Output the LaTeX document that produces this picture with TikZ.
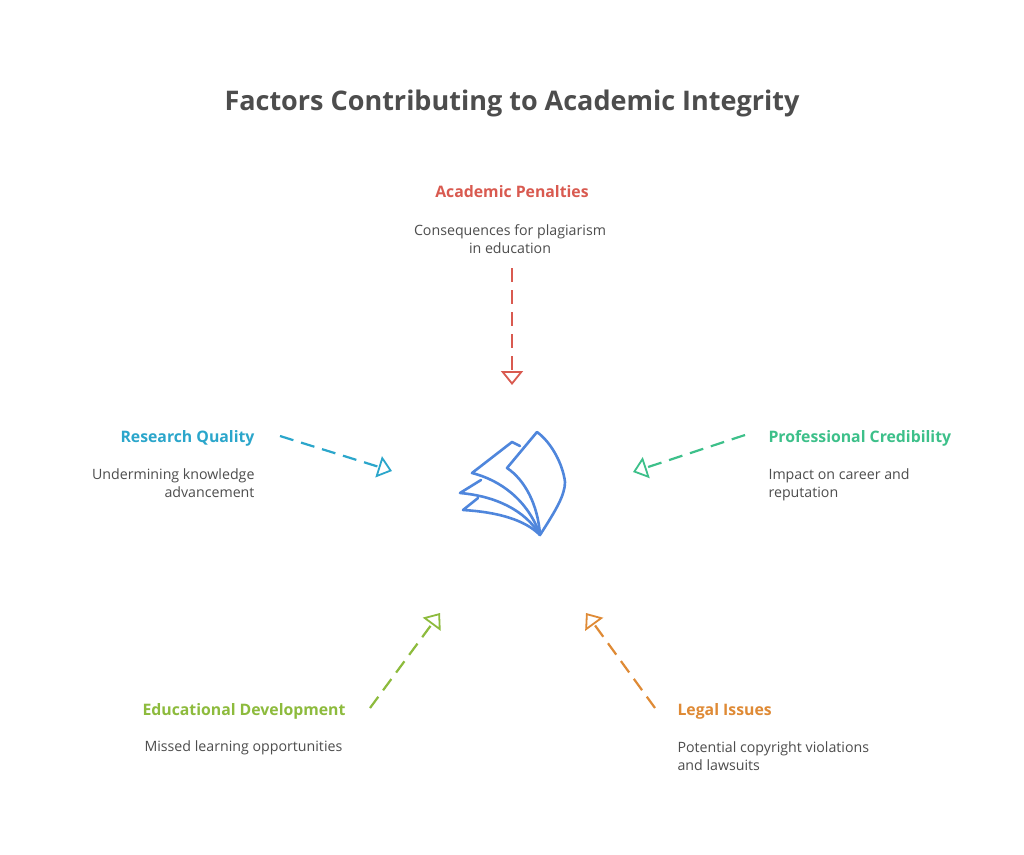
\documentclass[tikz,border=0pt]{standalone}
\usepackage{fontspec}
\setmainfont{Open Sans}
\usetikzlibrary{arrows.meta}

\definecolor{txtgray}{HTML}{4D4D4D}
\definecolor{penred}{HTML}{D95A50}
\definecolor{rescyan}{HTML}{2BA6CB}
\definecolor{progreen}{HTML}{3DC08A}
\definecolor{edulime}{HTML}{8DBB3D}
\definecolor{legorange}{HTML}{DF8A35}
\definecolor{iconblue}{HTML}{4F86DC}

\tikzset{
  head/.style={font=\bfseries\fontsize{15.8}{18}\selectfont},
  body/.style={font=\fontsize{14.2}{18}\selectfont, text=txtgray},
  link/.style={line width=2.2pt, dash pattern=on 14pt off 8pt,
    -{Triangle[open,length=14pt,width=22pt,line width=1.8pt]}},
}

\begin{document}
\begin{tikzpicture}[x=1pt,y=-1pt]
  \useasboundingbox[fill=white] (0,0) rectangle (1024,854);
  \node[text=txtgray, font=\bfseries\fontsize{27}{30}\selectfont] (title) at (512,103) {Factors Contributing to Academic Integrity};

  % top
  \node[head, text=penred] (penh) at (512,192) {Academic Penalties};
  \node[body, align=center] (penb) at (510,239) {Consequences for plagiarism\\in education};
  \coordinate (pens) at (512,268);
  \coordinate (pene) at (512,385);
  \draw[link, penred] (pens) -- (pene);

  % left
  \node[head, text=rescyan, anchor=east] (resh) at (258,438) {Research Quality};
  \node[body, align=right, anchor=north east] (resb) at (258,465) {Undermining knowledge\\advancement};
  \coordinate (ress) at (280,436);
  \coordinate (rese) at (392,471);
  \draw[link, rescyan] (ress) -- (rese);

  % right
  \node[head, text=progreen, anchor=west] (proh) at (765,438) {Professional Credibility};
  \node[body, align=left, anchor=north west] (prob) at (765,465) {Impact on career and\\reputation};
  \coordinate (pros) at (745,435);
  \coordinate (proe) at (633,472);
  \draw[link, progreen] (pros) -- (proe);

  % lower left
  \node[head, text=edulime, anchor=west] (eduh) at (139,711) {Educational Development};
  \node[body, anchor=west] (edub) at (141,748) {Missed learning opportunities};
  \coordinate (edus) at (370,708);
  \coordinate (edue) at (440,613);
  \draw[link, edulime] (edus) -- (edue);

  % lower right
  \node[head, text=legorange, anchor=west] (legh) at (674,711) {Legal Issues};
  \node[body, align=left, anchor=north west] (legb) at (674,738) {Potential copyright violations\\and lawsuits};
  \coordinate (legs) at (655,708);
  \coordinate (lege) at (586,613);
  \draw[link, legorange] (legs) -- (lege);

  % pages icon
  \begin{scope}[iconblue, line width=2.6pt, line join=round, line cap=round]
    \draw (540,535) .. controls (556,510) and (565,495) .. (565,482)
      .. controls (563,465) and (552,443) .. (537,432) -- (507,468)
      .. controls (525,480) and (538,505) .. (540,535);
    \draw (520,446) -- (512,442) -- (472,473)
      .. controls (500,480) and (528,500) .. (540,535);
    \draw (481,480) -- (460,493)
      .. controls (495,496) and (525,510) .. (540,535);
    \draw (478,498) -- (463,510)
      .. controls (498,512) and (525,520) .. (540,535);
  \end{scope}
\end{tikzpicture}
\end{document}
